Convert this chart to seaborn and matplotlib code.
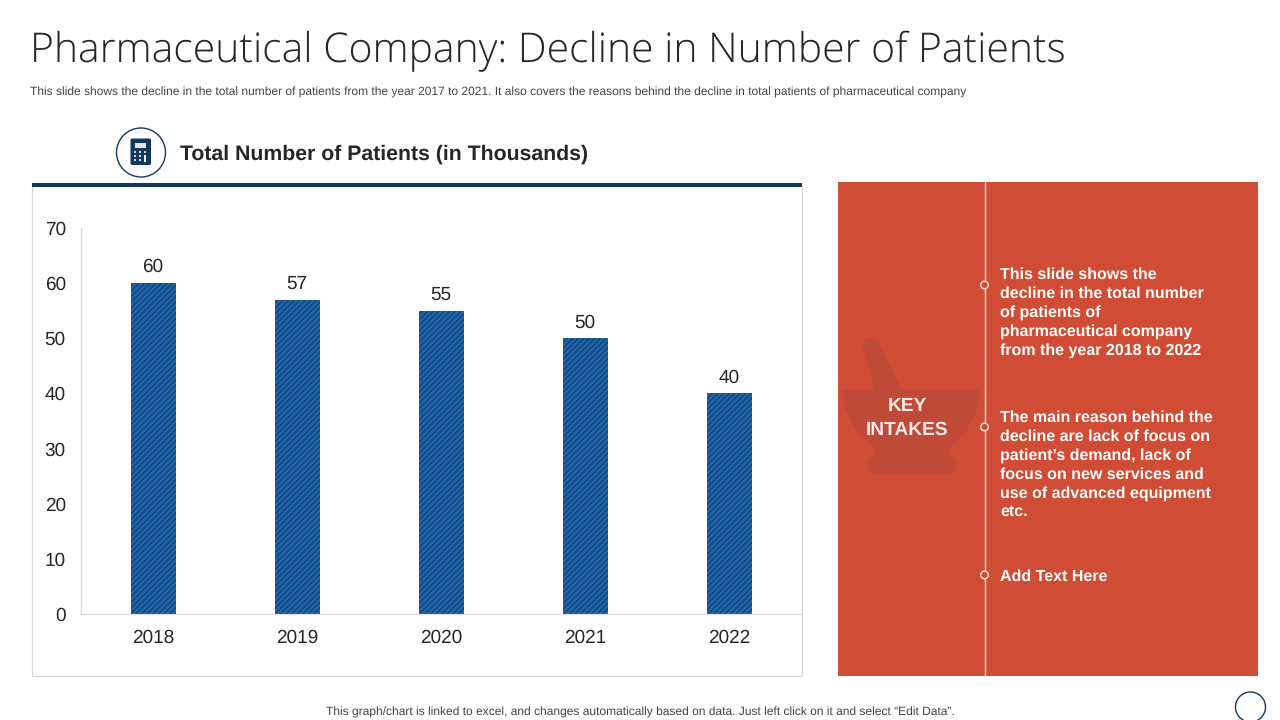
import matplotlib
matplotlib.use("Agg")
import matplotlib.pyplot as plt
from matplotlib.patches import Rectangle, Circle, Polygon, FancyBboxPatch
import pandas as pd
import seaborn as sns

# chart data
years = ["2018", "2019", "2020", "2021", "2022"]
patients = [60, 57, 55, 50, 40]
y_ticks = [0, 10, 20, 30, 40, 50, 60, 70]

title = "Pharmaceutical Company: Decline in Number of Patients"
subtitle = ("This slide shows the decline in the total number of patients from the year 2017 to 2021. "
            "It also covers the reasons behind the decline in total patients of pharmaceutical company")
chart_title = "Total Number of Patients (in Thousands)"
footer = "This graph/chart is linked to excel, and changes automatically based on data. Just left click on it and select \u201cEdit Data\u201d."
intake_1 = ("This slide shows the\ndecline in the total number\nof patients of\n"
            "pharmaceutical company\nfrom the year 2018 to 2022")
intake_2 = ("The main reason behind the\ndecline are lack of focus on\npatient\u2019s demand, lack of\n"
            "focus on new services and\nuse of advanced equipment\netc.")
intake_3 = "Add Text Here"

NAVY = "#12395b"
BAR = "#1d63a8"
RED = "#d04c35"
DARK_RED = "#bf4a38"
TEXT = "#262626"

sns.set_theme(style="white")
plt.rcParams["font.family"] = ["Liberation Sans", "DejaVu Sans"]
plt.rcParams["hatch.linewidth"] = 0.7
plt.rcParams["text.hinting"] = "none"

fig = plt.figure(figsize=(12.8, 7.2), dpi=100, facecolor="white")

# slide layer in pixel coordinates
bg = fig.add_axes([0, 0, 1, 1])
bg.set_xlim(0, 1280)
bg.set_ylim(720, 0)
bg.axis("off")

bg.text(30, 51.5, title, fontsize=29.4, color=TEXT, family="Open Sans", fontweight="light", va="center", ha="left")
bg.text(30, 92, subtitle, fontsize=8.67, color="#444444", va="center", ha="left")

# chart frame and header
bg.add_patch(Rectangle((32, 186), 769.5, 490, fc="white", ec="#d9d9d9", lw=0.9))
bg.add_patch(Rectangle((32, 183), 770, 4, fc=NAVY, ec="none"))
bg.text(180, 154, chart_title, fontsize=15.3, fontweight="bold", color=TEXT, va="center", ha="left")

# calculator icon
bg.add_patch(Circle((141, 152.5), 24.5, fc="white", ec=NAVY, lw=1))
bg.add_patch(FancyBboxPatch((130.5, 138.5), 20.5, 26.5, boxstyle="round,pad=0,rounding_size=1.5", fc=NAVY, ec="none"))
bg.add_patch(Rectangle((135, 143), 10.5, 4.5, fc="#dfe6ec", ec="none"))
for px in (135, 140, 145):
    for py in (152, 156, 160):
        if px == 145 and py > 152:
            continue
        bg.add_patch(Circle((px, py), 1, fc="white", ec="none"))
bg.add_patch(Rectangle((144.3, 154.5), 2, 7, fc="white", ec="none"))

# key intakes panel
bg.add_patch(Rectangle((838, 182), 420, 494, fc=RED, ec="none"))
bg.plot([984.5, 984.5], [182, 676], color="#f3d9d3", lw=1)
for cy in (285, 427, 575):
    bg.add_patch(Circle((984.5, cy), 3.8, fc=RED, ec="#f7e6e2", lw=1, zorder=3))

# mortar and pestle watermark
bg.add_patch(Polygon([(863, 347), (880, 345), (902, 390), (875, 390)], fc=DARK_RED, ec="none"))
bg.add_patch(Circle((871.5, 346), 8.8, fc=DARK_RED, ec="none"))
bg.add_patch(Polygon([(843, 390), (980, 390), (978, 408), (966, 432), (948, 451),
                      (957, 462), (955, 470), (950, 474), (874, 474), (869, 470), (867, 462), (877, 451),
                      (857, 432), (845, 410)], fc=DARK_RED, ec="none"))

bg.text(907, 418, "KEY\nINTAKES", fontsize=13.8, fontweight="bold", color="#f6e9e6",
        ha="center", va="center", linespacing=1.5)

bg.text(1000, 312.5, intake_1, fontsize=11.55, fontweight="bold", color="white",
        va="center", ha="left", linespacing=1.34)
bg.text(1000, 465, intake_2, fontsize=11.55, fontweight="bold", color="white",
        va="center", ha="left", linespacing=1.34)
bg.text(1000, 577, intake_3, fontsize=11.55, fontweight="bold", color="white", va="center", ha="left")

bg.text(640, 712.5, footer, fontsize=8.67, color="#444444", va="center", ha="center")
bg.add_patch(Circle((1250.5, 707), 15, fc="white", ec=NAVY, lw=1))

# bar chart, axes box matches the plot area of the slide
ax = fig.add_axes([81 / 1280, (720 - 614) / 720, 720 / 1280, 386 / 720])
ax.patch.set_alpha(0)
df = pd.DataFrame({"year": years, "patients": patients})
sns.barplot(data=df, x="year", y="patients", color=BAR, width=0.3125, saturation=1,
            hatch="//////", edgecolor="#0e3a66", linewidth=0, ax=ax)
ax.set_xlim(-0.5, 4.5)
ax.set_ylim(0, 70)
ax.set_yticks(y_ticks)
ax.set_xlabel("")
ax.set_ylabel("")
ax.tick_params(axis="x", length=0, labelsize=13.7, labelcolor=TEXT, pad=11)
ax.tick_params(axis="y", length=0, labelsize=13.7, labelcolor=TEXT, pad=11)
for side in ("top", "right"):
    ax.spines[side].set_visible(False)
for side in ("left", "bottom"):
    ax.spines[side].set_color("#d9d9d9")
    ax.spines[side].set_linewidth(0.9)
ax.bar_label(ax.containers[0], fontsize=13.7, color=TEXT, padding=5)

fig.savefig("out.png", dpi=100)
